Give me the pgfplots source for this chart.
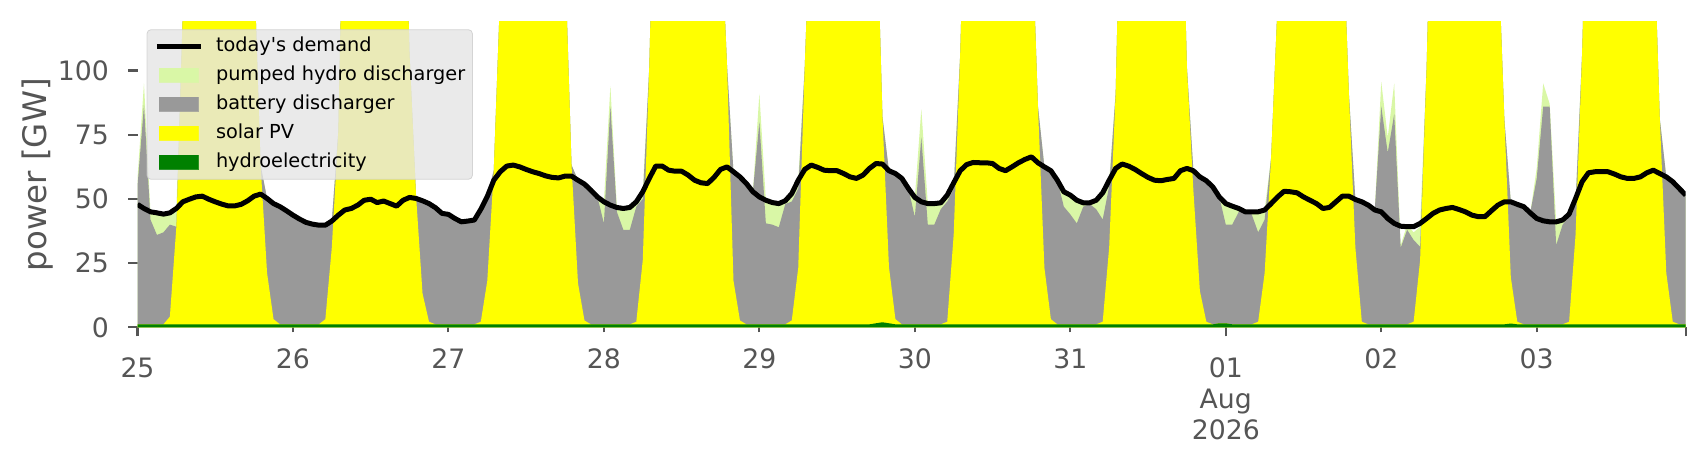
\documentclass[border=0pt]{standalone}
\usepackage{fontspec}
\setmainfont{DejaVu Sans}
\usepackage{pgfplots}
\usepackage{pgfplotstable}
\pgfplotsset{compat=1.18}
\definecolor{phcol}{RGB}{217,247,166}
\definecolor{batcol}{RGB}{153,153,153}
\definecolor{solcol}{RGB}{255,255,0}
\definecolor{hydcol}{RGB}{0,128,0}
\definecolor{txtgray}{RGB}{85,85,85}
\definecolor{legfill}{RGB}{229,229,229}
\definecolor{legedge}{RGB}{204,204,204}
% t = hour since 25 Jul 00:00; H = hydro top, S = solar top, G = battery top, T = pumped hydro top (cumulative); D = demand
\pgfplotstableread{
t H S G T D
0 1.2 1.2 55 58 47.9
1 1.2 1.2 86.5 95 46.3
2 1.2 1.2 42 45 45
3 1.2 1.2 36 44.6 44.6
4 1.2 1.2 37 44.1 44.1
5 1.2 4.2 40 44.6 44.6
6 1.2 39.2 39.2 46.3 46.3
7 1.2 123.2 123.2 123.2 48.9
8 1.2 201 201 201 49.9
9 1.2 201 201 201 50.8
10 1.2 201 201 201 51.1
11 1.2 201 201 201 49.9
12 1.2 201 201 201 48.9
13 1.2 201 201 201 48
14 1.2 201 201 201 47.3
15 1.2 201 201 201 47.3
16 1.2 201 201 201 47.9
17 1.2 201 201 201 49.3
18 1.2 141.2 141.2 141.2 51.1
19 1.2 63.2 63.2 63.2 51.9
20 1.2 21.2 50.2 50.2 50.2
21 1.2 3.2 48.2 48.2 48.2
22 1.2 1.2 47 47 47
23 1.2 1.2 45.4 45.4 45.4
24 1.2 1.2 43.7 43.7 43.7
25 1.2 1.2 42.2 42.2 42.2
26 1.2 1.2 40.9 40.9 40.9
27 1.2 1.2 40.2 40.2 40.2
28 1.2 1.2 39.8 39.8 39.8
29 1.2 3.2 39.8 39.8 39.8
30 1.2 31.2 41.4 41.4 41.4
31 1.2 76.2 76.2 76.2 43.7
32 1.2 201 201 201 45.7
33 1.2 201 201 201 46.3
34 1.2 201 201 201 47.6
35 1.2 201 201 201 49.5
36 1.2 201 201 201 49.9
37 1.2 201 201 201 48.6
38 1.2 201 201 201 49.2
39 1.2 201 201 201 48.2
40 1.2 201 201 201 47.2
41 1.2 201 201 201 49.5
42 1.2 106.2 106.2 106.2 50.6
43 1.2 51.2 51.2 51.2 50.2
44 1.2 13.2 49.3 49.3 49.3
45 1.2 2.2 48.2 48.2 48.2
46 1.2 1.2 46.6 46.6 46.6
47 1.2 1.2 44.4 44.4 44.4
48 1.2 1.2 44 44 44
49 1.2 1.2 42.4 42.4 42.4
50 1.2 1.2 41.1 41.1 41.1
51 1.2 1.2 41.4 41.4 41.4
52 1.2 1.2 41.8 41.8 41.8
53 1.2 2.2 46 46 46
54 1.2 18.2 51 51 51
55 1.2 61.2 61.2 61.2 57.3
56 1.2 131.2 131.2 131.2 60.6
57 1.2 201 201 201 62.8
58 1.2 201 201 201 63.2
59 1.2 201 201 201 62.5
60 1.2 201 201 201 61.5
61 1.2 201 201 201 60.6
62 1.2 201 201 201 59.9
63 1.2 201 201 201 59
64 1.2 201 201 201 58.4
65 1.2 201 201 201 58.2
66 1.2 144.2 144.2 144.2 58.9
67 1.2 63.2 63.2 63.2 58.9
68 1.2 17.2 57.3 57.3 57.3
69 1.2 2.7 55.8 55.8 55.8
70 1.2 1.2 53.4 53.4 53.4
71 1.2 1.2 50.8 50.8 50.8
72 1.2 1.2 40.5 48.9 48.9
73 1.2 1.2 86 94 47.6
74 1.2 1.2 45 47 46.7
75 1.2 1.2 38 46.3 46.3
76 1.2 1.2 38 46.7 46.7
77 1.2 2.2 47 48.9 48.9
78 1.2 26.2 50 52.8 52.8
79 1.2 101.2 101.2 101.2 58
80 1.2 201 201 201 62.8
81 1.2 201 201 201 62.8
82 1.2 201 201 201 61.2
83 1.2 201 201 201 60.8
84 1.2 201 201 201 60.8
85 1.2 201 201 201 59.3
86 1.2 201 201 201 57.3
87 1.2 201 201 201 56.3
88 1.2 201 201 201 56
89 1.2 201 201 201 58.4
90 1.2 161.2 161.2 161.2 61.5
91 1.2 102.2 102.2 102.2 62.5
92 1.2 18.2 60.6 60.6 60.6
93 1.2 2.7 58.6 58.6 58.6
94 1.2 1.2 56 56 56
95 1.2 1.2 52.8 52.8 52.8
96 1.2 1.2 80 91 50.8
97 1.2 1.2 40.5 49.5 49.5
98 1.2 1.2 40 48.6 48.6
99 1.2 1.2 39 48.2 48.2
100 1.2 1.2 48 49.3 49.3
101 1.2 2.7 49 52.1 52.1
102 1.2 23.2 54 57.3 57.3
103 1.2 101.2 101.2 101.2 61.5
104 1.2 171.2 171.2 171.2 63.2
105 1.2 201 201 201 62.3
106 1.2 201 201 201 61.2
107 1.2 201 201 201 61
108 1.2 201 201 201 61
109 1.2 201 201 201 59.9
110 1.2 201 201 201 58.6
111 1.2 201 201 201 58
112 1.2 201 201 201 59.3
113 1.2 201 201 201 61.9
114 1.6 171.6 171.6 171.6 63.8
115 2.0 82 82 82 63.6
116 1.6 23.6 61 61 61
117 1.2 3.2 59.9 59.9 59.9
118 1.2 1.2 58 58 58
119 1.2 1.2 54.1 54.1 54.1
120 1.2 1.2 43 50.6 50.6
121 1.2 1.2 74 85 48.9
122 1.2 1.2 40 48.2 48.2
123 1.2 1.2 40 48.2 48.2
124 1.2 1.2 46 48.5 48.5
125 1.2 2.2 49 51.5 51.5
126 1.2 36.2 54 56.3 56.3
127 1.2 106.2 106.2 106.2 61
128 1.2 201 201 201 63.4
129 1.2 201 201 201 64.2
130 1.2 201 201 201 64.1
131 1.2 201 201 201 64.1
132 1.2 201 201 201 63.8
133 1.2 201 201 201 61.9
134 1.2 201 201 201 61
135 1.2 201 201 201 62.5
136 1.2 201 201 201 64.1
137 1.2 201 201 201 65.4
138 1.2 161.2 161.2 161.2 66.4
139 1.2 86.2 86.2 86.2 64.1
140 1.2 23.2 62.5 62.5 62.5
141 1.2 3.2 61 61 61
142 1.2 1.2 57.3 57.3 57.3
143 1.2 1.2 47 52.8 52.8
144 1.2 1.2 44 51.5 51.5
145 1.2 1.2 40.5 49.5 49.5
146 1.2 1.2 47 48.5 48.5
147 1.2 1.2 48 48.5 48.5
148 1.2 1.2 46 49.5 49.5
149 1.2 2.2 42 52.4 52.4
150 1.2 31.2 55 57.3 57.3
151 1.2 91.2 91.2 91.2 61.9
152 1.2 201 201 201 63.6
153 1.2 201 201 201 62.8
154 1.2 201 201 201 61.5
155 1.2 201 201 201 59.9
156 1.2 201 201 201 58.4
157 1.2 201 201 201 57.3
158 1.2 201 201 201 57.1
159 1.2 201 201 201 57.6
160 1.2 201 201 201 58
161 1.2 201 201 201 61
162 1.2 101.2 101.2 101.2 61.9
163 1.2 53.2 61 61 61
164 1.2 14.2 58.6 58.6 58.6
165 1.2 2.2 57.1 57.1 57.1
166 1.2 1.2 54.7 54.7 54.7
167 1.6 1.6 50.8 50.8 50.8
168 1.6 1.6 40 48.2 48.2
169 1.2 1.2 40 47.2 47.2
170 1.2 1.2 45 46.3 46.3
171 1.2 1.2 45 45 45
172 1.2 1.2 44 45 45
173 1.2 2.2 37 45 45
174 1.2 21.2 42 45.7 45.7
175 1.2 66.2 66.2 66.2 48.2
176 1.2 126.2 126.2 126.2 50.8
177 1.2 201 201 201 53
178 1.2 201 201 201 52.8
179 1.2 201 201 201 52.4
180 1.2 201 201 201 50.8
181 1.2 201 201 201 49.5
182 1.2 201 201 201 48.2
183 1.2 201 201 201 46.3
184 1.2 201 201 201 46.7
185 1.2 201 201 201 48.9
186 1.2 161.2 161.2 161.2 51.1
187 1.2 91.2 91.2 91.2 51.1
188 1.2 31.2 49.8 49.8 49.8
189 1.2 2.2 48.9 48.9 48.9
190 1.2 1.2 47.6 47.6 47.6
191 1.2 1.2 45.7 45.7 45.7
192 1.2 1.2 86 95.6 45
193 1.2 1.2 68 74 42.4
194 1.2 1.2 83 95 40.5
195 1.2 1.2 31 32 39.4
196 1.2 1.2 38 40 39.2
197 1.2 2.2 34 37 39.2
198 1.2 26.2 31.4 39.2 40.5
199 1.2 101.2 101.2 101.2 42.4
200 1.2 201 201 201 44.4
201 1.2 201 201 201 45.7
202 1.2 201 201 201 46.3
203 1.2 201 201 201 46.7
204 1.2 201 201 201 45.9
205 1.2 201 201 201 45
206 1.2 201 201 201 43.7
207 1.2 201 201 201 43.1
208 1.2 201 201 201 43.1
209 1.2 201 201 201 45.4
210 1.2 151.2 151.2 151.2 47.6
211 1.2 81.2 81.2 81.2 48.9
212 1.5 19.5 48.9 48.9 48.9
213 1.2 2.2 47.9 47.9 47.9
214 1.2 1.2 47 47 47
215 1.2 1.2 44.6 44.6 44.6
216 1.2 1.2 58 62 42.4
217 1.2 1.2 86 95 41.5
218 1.2 1.2 86 87 41.1
219 1.2 1.2 32 41.1 41.1
220 1.2 1.2 40 41.8 41.8
221 1.2 2.2 43 44.1 44.1
222 1.2 36.2 48 50.2 50.2
223 1.2 106.2 106.2 106.2 56.7
224 1.2 201 201 201 60.2
225 1.2 201 201 201 60.6
226 1.2 201 201 201 60.6
227 1.2 201 201 201 60.6
228 1.2 201 201 201 59.7
229 1.2 201 201 201 58.6
230 1.2 201 201 201 58
231 1.2 201 201 201 58
232 1.2 201 201 201 58.6
233 1.2 201 201 201 60.2
234 1.2 161.2 161.2 161.2 61.2
235 1.2 81.2 81.2 81.2 59.9
236 1.2 21.2 58.6 58.6 58.6
237 1.2 2.2 56.7 56.7 56.7
238 1.2 1.2 54.1 54.1 54.1
239 1.2 1.2 51.5 51.5 51.5
}\data

\begin{document}
\begin{tikzpicture}
\useasboundingbox (0,0) rectangle (853pt,230pt);
\begin{axis}[
  at={(68.75pt,66.3pt)}, anchor=south west,
  width=774.1pt, height=152.7pt, scale only axis,
  xmin=0, xmax=239, ymin=0, ymax=118.9,
  axis line style={draw=none},
  tick align=outside, tick pos=left,
  major tick length=4.5pt,
  tick style={color=txtgray, line width=1.05pt},
  ytick={0,25,50,75,100},
  yticklabels={0,25,50,75,100},
  xtick={0,168,239},
  xticklabels={25,{01\\Aug\\2026},{}},
  extra x ticks={24,48,72,96,120,144,192,216},
  extra x tick labels={26,27,28,29,30,31,02,03},
  extra x tick style={major tick length=2.5pt, tick label style={yshift=2.4pt}},
  xticklabel style={font=\fontsize{13.35}{15.5}\selectfont, text=txtgray, align=center, anchor=north, yshift=-6.9pt},
  yticklabel style={font=\fontsize{13.35}{15.5}\selectfont, text=txtgray, anchor=east, xshift=-6.3pt},
  ylabel={power [GW]},
  ylabel style={font=\fontsize{16.2}{19}\selectfont, text=txtgray, at={(axis description cs:-0.0643,0.5)}, anchor=center},
  legend cell align=left,
  legend style={at={(axis description cs:0,1)}, anchor=north west, xshift=4.55pt, yshift=-3.65pt,
    fill=legfill, fill opacity=0.8, draw=legedge, draw opacity=0.8, text opacity=1,
    rounded corners=2pt, inner xsep=3.65pt, inner ysep=3.4pt, row sep=4.5pt,
    font=\fontsize{9.65}{11}\selectfont,
    nodes={inner sep=0pt, text height=7.5pt, text depth=2.5pt},
    /tikz/every odd column/.append style={column sep=6.5pt},
    /tikz/every even column/.append style={column sep=1.75pt}},
]
\addlegendimage{legend image code/.code={\draw[black, line width=2.5pt, draw opacity=1, sharp corners] (-1.1pt,0pt) -- (20.75pt,0pt);}}
\addlegendentry{today\textquotesingle s demand}
\addlegendimage{legend image code/.code={\fill[phcol, fill opacity=1, sharp corners] (0pt,-3.5pt) rectangle (19.65pt,3.5pt);}}
\addlegendentry{pumped hydro discharger}
\addlegendimage{legend image code/.code={\fill[batcol, fill opacity=1, sharp corners] (0pt,-3.5pt) rectangle (19.65pt,3.5pt);}}
\addlegendentry{battery discharger}
\addlegendimage{legend image code/.code={\fill[solcol, fill opacity=1, sharp corners] (0pt,-3.5pt) rectangle (19.65pt,3.5pt);}}
\addlegendentry{solar PV}
\addlegendimage{legend image code/.code={\fill[hydcol, fill opacity=1, sharp corners] (0pt,-3.5pt) rectangle (19.65pt,3.5pt);}}
\addlegendentry{hydroelectricity}
\addplot[draw=none, fill=phcol, forget plot] table[x=t,y=T]{\data} \closedcycle;
\addplot[draw=none, fill=batcol, forget plot] table[x=t,y=G]{\data} \closedcycle;
\addplot[draw=none, fill=solcol, forget plot] table[x=t,y=S]{\data} \closedcycle;
\addplot[draw=none, fill=hydcol, forget plot] table[x=t,y=H]{\data} \closedcycle;
\addplot[black, line width=2.5pt, line join=round, forget plot] table[x=t,y=D]{\data};
\end{axis}
\end{tikzpicture}
\end{document}
